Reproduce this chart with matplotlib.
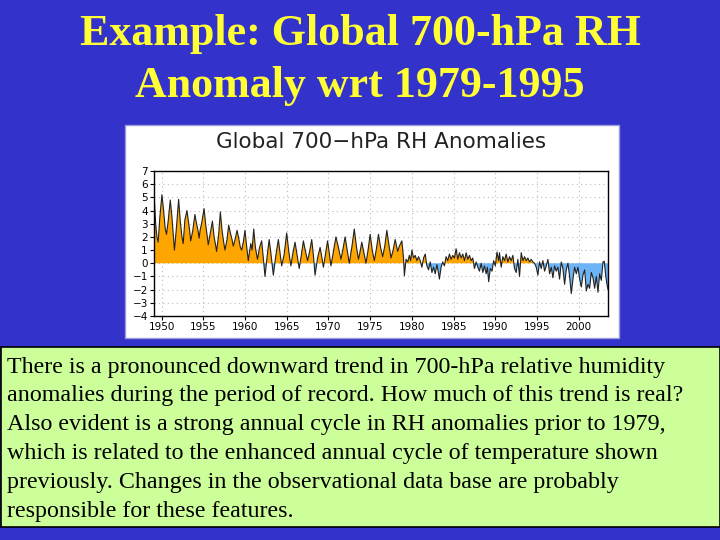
import matplotlib
matplotlib.use("Agg")
import matplotlib.pyplot as plt
from matplotlib.patches import Rectangle
import numpy as np

# ---- data ----
years = [
    1949.1, 1949.3, 1949.45, 1949.6, 1949.8, 1950.05, 1950.25, 1950.45, 1950.6, 1950.8,
    1951.05, 1951.25, 1951.4, 1951.55, 1951.8, 1952.05, 1952.25, 1952.45, 1952.6, 1952.8,
    1953.05, 1953.2, 1953.35, 1953.5, 1953.75, 1954.0, 1954.2, 1954.4, 1954.5, 1954.65,
    1954.8, 1955.1, 1955.3, 1955.45, 1955.6, 1955.85, 1956.1, 1956.3, 1956.45, 1956.6,
    1956.85, 1957.05, 1957.25, 1957.45, 1957.6, 1957.85, 1958.05, 1958.25, 1958.45, 1958.6,
    1958.85, 1959.05, 1959.25, 1959.45, 1959.6, 1959.8, 1960.0, 1960.2, 1960.4, 1960.55,
    1960.7, 1960.85, 1961.05, 1961.25, 1961.5, 1961.75, 1962.0, 1962.2, 1962.4, 1962.65,
    1962.9, 1963.1, 1963.4, 1963.7, 1964.0, 1964.2, 1964.4, 1964.7, 1965.0, 1965.25,
    1965.5, 1965.75, 1966.0, 1966.25, 1966.5, 1966.75, 1967.0, 1967.25, 1967.5, 1967.75,
    1968.0, 1968.2, 1968.4, 1968.7, 1969.0, 1969.2, 1969.4, 1969.65, 1969.9, 1970.1,
    1970.3, 1970.6, 1970.9, 1971.2, 1971.5, 1971.75, 1972.0, 1972.25, 1972.5, 1972.8,
    1973.1, 1973.35, 1973.6, 1973.8, 1974.0, 1974.25, 1974.5, 1974.75, 1975.0, 1975.25,
    1975.5, 1975.75, 1976.0, 1976.25, 1976.5, 1976.75, 1977.0, 1977.25, 1977.5, 1977.75,
    1978.0, 1978.3, 1978.5, 1978.8, 1979.0, 1979.1, 1979.3, 1979.5, 1979.7, 1979.85,
    1980.0, 1980.2, 1980.4, 1980.6, 1980.8, 1981.0, 1981.2, 1981.4, 1981.6, 1981.8,
    1982.0, 1982.2, 1982.4, 1982.6, 1982.8, 1983.0, 1983.15, 1983.3, 1983.5, 1983.7,
    1983.9, 1984.1, 1984.3, 1984.5, 1984.7, 1984.9, 1985.1, 1985.3, 1985.5, 1985.7,
    1985.9, 1986.1, 1986.3, 1986.5, 1986.7, 1986.9, 1987.1, 1987.3, 1987.5, 1987.7,
    1987.9, 1988.1, 1988.3, 1988.5, 1988.7, 1988.9, 1989.05, 1989.2, 1989.4, 1989.6,
    1989.8, 1990.0, 1990.2, 1990.4, 1990.5, 1990.7, 1990.9, 1991.1, 1991.3, 1991.5,
    1991.7, 1991.9, 1992.1, 1992.3, 1992.5, 1992.7, 1992.9, 1993.1, 1993.3, 1993.5,
    1993.7, 1993.9, 1994.1, 1994.3, 1994.5, 1994.7, 1994.9, 1995.1, 1995.3, 1995.5,
    1995.7, 1995.9, 1996.1, 1996.3, 1996.5, 1996.7, 1996.9, 1997.1, 1997.3, 1997.5,
    1997.7, 1997.9, 1998.1, 1998.3, 1998.5, 1998.7, 1998.9, 1999.1, 1999.3, 1999.5,
    1999.7, 1999.9, 2000.1, 2000.3, 2000.5, 2000.7, 2000.9, 2001.1, 2001.3, 2001.5,
    2001.7, 2001.9, 2002.1, 2002.3, 2002.5, 2002.7, 2002.9, 2003.05, 2003.2, 2003.35,
    2003.5]
rh_anom = [
    5.3, 3.0, 2.0, 1.6, 3.5, 5.2, 4.0, 2.6, 2.2, 3.2,
    4.8, 3.5, 2.2, 1.0, 2.8, 4.85, 3.2, 2.0, 1.5, 3.3,
    4.0, 3.3, 2.6, 1.7, 2.5, 3.7, 3.0, 2.4, 1.9, 2.6,
    3.0, 4.15, 2.9, 2.2, 1.4, 2.3, 3.2, 2.0, 1.5, 0.9,
    2.2, 3.9, 2.5, 1.6, 1.0, 1.8, 2.9, 2.3, 1.8, 1.3,
    1.9, 2.5, 1.9, 1.2, 1.0, 1.6, 2.5, 1.3, 0.2, 0.9,
    1.5, 1.0, 2.6, 1.2, 0.3, 1.2, 1.7, 0.4, -1.0, 0.5,
    1.8, 0.8, -0.9, 0.6, 1.8, 0.8, -0.2, 0.7, 2.3, 0.9,
    -0.2, 0.8, 1.6, 0.6, -0.4, 0.6, 1.7, 0.9, 0.2, 0.9,
    1.8, 0.6, -0.9, 0.4, 1.2, 0.5, -0.3, 0.7, 1.7, 0.8,
    -0.2, 0.9, 2.0, 1.2, 0.3, 1.1, 2.0, 1.0, 0.0, 1.2,
    2.6, 1.3, 0.3, 0.9, 1.6, 0.8, 0.0, 1.0, 2.2, 1.0,
    0.2, 1.1, 2.2, 1.2, 0.5, 1.3, 2.5, 1.4, 0.4, 1.0,
    1.8, 0.9, 1.3, 1.7, 0.4, -0.95, 0.3, 0.1, 0.6, 0.2,
    1.0, 0.4, 0.6, 0.2, 0.5, 0.2, -0.3, 0.4, 0.7, -0.2,
    -0.5, 0.1, -0.7, -0.3, -0.8, -0.1, -0.6, -1.2, -0.3, 0.1,
    -0.2, 0.5, 0.2, 0.7, 0.3, 0.6, 0.4, 1.1, 0.3, 0.8,
    0.4, 0.7, 0.2, 0.8, 0.3, 0.6, 0.2, 0.4, -0.4, 0.1,
    -0.3, -0.6, 0.0, -0.7, -0.2, -0.8, -0.3, -1.4, -0.4, -0.6,
    0.2, -0.2, 0.85, 0.2, 0.8, -0.3, 0.5, 0.2, 0.7, 0.1,
    0.5, 0.2, 0.6, -0.4, -0.7, 0.3, -1.0, 0.8, 0.2, 0.5,
    0.2, 0.4, 0.1, 0.3, 0.1, 0.0, -0.3, -0.9, 0.1, -0.4,
    0.2, -0.6, -0.2, 0.3, -0.8, -0.3, -1.1, -0.2, -0.6, -0.3,
    -1.2, 0.1, -0.4, -1.6, -0.5, 0.0, -1.0, -2.3, -1.2, -0.3,
    -0.8, -0.3, -1.2, -1.8, -0.9, -0.5, -2.1, -1.6, -1.9, -0.7,
    -1.1, -1.9, -1.0, -2.2, -0.8, -1.3, 0.1, 0.15, -0.8, -1.5,
    -2.0]
yticks = [7, 6, 5, 4, 3, 2, 1, 0, -1, -2, -3, -4]
xticks = [1950, 1955, 1960, 1965, 1970, 1975, 1980, 1985, 1990, 1995, 2000]

title_lines = ["Example: Global 700-hPa RH", "Anomaly wrt 1979-1995"]
chart_title = "Global 700\u2212hPa RH Anomalies"
body_lines = [
    "There is a pronounced downward trend in 700-hPa relative humidity",
    "anomalies during the period of record. How much of this trend is real?",
    "Also evident is a strong annual cycle in RH anomalies prior to 1979,",
    "which is related to the enhanced annual cycle of temperature shown",
    "previously. Changes in the observational data base are probably",
    "responsible for these features.",
]

W, H = 720, 540
fig = plt.figure(figsize=(7.2, 5.4), dpi=100)
fig.patch.set_facecolor("#3333CC")

def fx(px):
    return px / W

def fy(py):
    return 1 - py / H

# slide title
for i, t in enumerate(title_lines):
    fig.text(0.5, fy(34 + i * 52), t, ha="center", va="center", color="#FFFF33",
             fontsize=31.7, fontweight="bold", family="Liberation Serif")

# white chart panel
fig.patches.append(Rectangle((fx(125), fy(338)), fx(494), 213 / H, transform=fig.transFigure,
                             facecolor="white", edgecolor="#9999DD", lw=1, zorder=-5))
fig.text(fx(381), fy(142), chart_title, ha="center", va="center", fontsize=15.5,
         family="DejaVu Sans", color="#222222")

ax = fig.add_axes([fx(154), fy(316), fx(608 - 154), 145 / H])
ax.set_facecolor("white")
x = np.array(years)
y = np.array(rh_anom)
ax.fill_between(x, y, 0, where=y >= 0, interpolate=True, color="#FFA500", lw=0)
ax.fill_between(x, y, 0, where=y <= 0, interpolate=True, color="#6CB4F5", lw=0)
ax.plot(x, y, color="#222222", lw=0.8)
ax.set_xlim(1949.1, 2003.5)
ax.set_ylim(-4, 7)
ax.set_yticks(yticks)
ax.set_yticklabels([str(v).replace("-", "\u2212") for v in yticks])
ax.set_xticks(xticks)
ax.set_xticklabels([str(v) for v in xticks])
ax.grid(True, color="#BBBBBB", linestyle=(0, (1, 3)), lw=0.8)
ax.set_axisbelow(True)
ax.tick_params(axis="both", labelsize=7.5, length=3, width=0.8, pad=1.5, colors="black")
for s in ax.spines.values():
    s.set_linewidth(1.0)

# green text box
fig.patches.append(Rectangle((fx(0.5), fy(527)), fx(719), 180 / H, transform=fig.transFigure,
                             facecolor="#CCFF99", edgecolor="black", lw=1.2, zorder=-5))
for i, line in enumerate(body_lines):
    fig.text(fx(7), fy(367 + i * 28.8), line, ha="left", va="center", fontsize=17.3,
             family="Liberation Serif", color="black")

fig.savefig("out.png", dpi=100, facecolor=fig.get_facecolor())
